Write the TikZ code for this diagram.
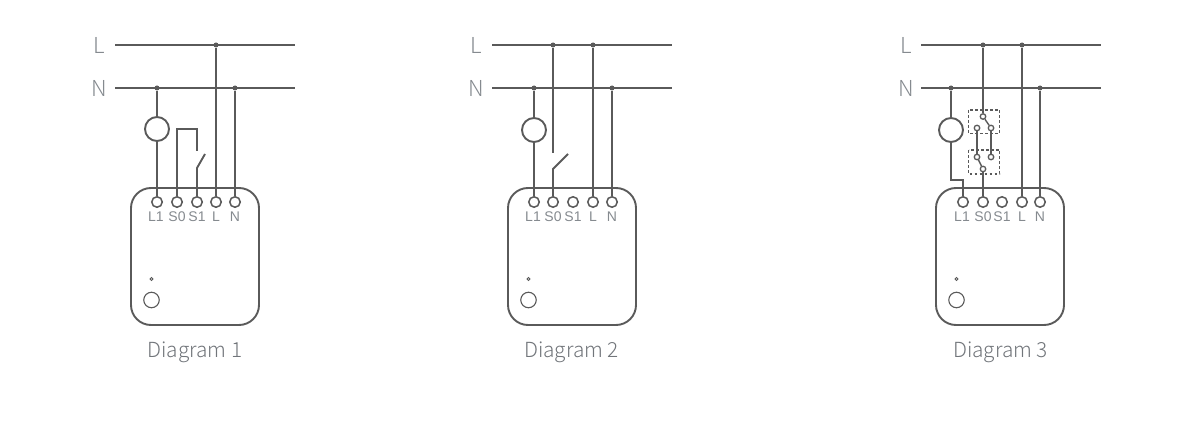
\documentclass[tikz,border=0pt]{standalone}
\usepackage{fontspec}
\setmainfont{Liberation Sans}
\newfontfamily\capfont[UprightFont=* Light]{Noto Sans CJK SC}
\definecolor{wire}{HTML}{5A5A5A}
\definecolor{txt}{HTML}{858A8F}
\tikzset{
  wirel/.style={draw=wire,line width=1.9pt},
  term/.style={circle,draw=wire,line width=1.5pt,fill=white,minimum size=10.5pt,inner sep=0pt},
  junction/.style={circle,fill=wire,minimum size=5pt,inner sep=0pt},
  contact/.style={circle,draw=wire,line width=1.3pt,fill=white,minimum size=5.5pt,inner sep=0pt},
  lamp/.style={circle,draw=wire,line width=1.9pt,fill=white,minimum size=24pt,inner sep=0pt},
  modbox/.style={draw=wire,line width=1.9pt,rounded corners=20pt},
  termlabel/.style={text=txt,font=\fontsize{14}{16}\selectfont,inner sep=0pt},
  mains/.style={text=txt,font=\capfont\fontsize{22}{24}\selectfont,inner sep=0pt},
  caption/.style={text=txt!85!black,font=\capfont\fontsize{20.8}{24}\selectfont,inner sep=0pt},
  btn/.style={circle,draw=wire,line width=1.1pt,minimum size=15.5pt,inner sep=0pt},
  led/.style={circle,draw=wire,line width=.8pt,minimum size=3pt,inner sep=0pt},
  dashbox/.style={draw=wire,line width=1.5pt,dash pattern=on 2.6pt off 2.4pt}
}
% #1 prefix, #2 box left x, #3 bus left x, #4 mains label x, #5 caption text, #6 caption x
\newcommand{\modulebase}[6]{%
  \coordinate (#1-Ls) at (#3,45); \coordinate (#1-Le) at (#3+180,45);
  \coordinate (#1-Ns) at (#3,88); \coordinate (#1-Ne) at (#3+180,88);
  \draw[wirel] (#1-Ls) -- (#1-Le);
  \draw[wirel] (#1-Ns) -- (#1-Ne);
  \node[mains] (#1-Ltxt) at (#4,45.5) {L};
  \node[mains] (#1-Ntxt) at (#4,88.5) {N};
  \draw[modbox] (#2,188) rectangle (#2+128,325);
  \node[led] (#1-led) at (#2+20.5,279) {};
  \node[btn] (#1-btn) at (#2+20.5,300) {};
  \node[caption] (#1-cap) at (#6,352) {#5};
}
% #1 prefix, then the x of the terminals L1 S0 S1 L N
\newcommand{\terminals}[6]{%
  \node[term] (#1-l1) at (#2,202) {};
  \node[term] (#1-s0) at (#3,202) {};
  \node[term] (#1-s1) at (#4,202) {};
  \node[term] (#1-l) at (#5,202) {};
  \node[term] (#1-n) at (#6,202) {};
  \node[termlabel] (#1-tl1) at (#2-1,216.5) {L1};
  \node[termlabel] (#1-ts0) at (#3,216.5) {S0};
  \node[termlabel] (#1-ts1) at (#4,216.5) {S1};
  \node[termlabel] (#1-tl) at (#5,216.5) {L};
  \node[termlabel] (#1-tn) at (#6,216.5) {N};
}
\begin{document}
\begin{tikzpicture}[x=1pt,y=-1pt]
\useasboundingbox (0,0) rectangle (1191,433);

% ---------- Diagram 1
\modulebase{a}{131}{115}{99}{Diagram 1}{195}
\terminals{a}{157}{177}{197}{216}{235}
\node[junction] (a-j1) at (216,45) {};
\node[junction] (a-j2) at (157,88) {};
\node[junction] (a-j3) at (235,88) {};
\node[lamp] (a-lamp) at (157,129) {};
\draw[wirel] (a-j1) -- (a-l.north);
\draw[wirel] (a-j3) -- (a-n.north);
\draw[wirel] (a-j2) -- (a-lamp.north);
\draw[wirel] (a-lamp.south) -- (a-l1.north);
\coordinate (a-up) at (197,129);
\coordinate (a-sw1) at (197,151);
\coordinate (a-sw2) at (197,168);
\coordinate (a-sw3) at (205,154);
\draw[wirel,line join=miter] (a-s0.north) |- (a-up) -- (a-sw1);
\draw[wirel] (a-s1.north) -- (a-sw2) -- (a-sw3);

% ---------- Diagram 2
\modulebase{b}{508}{492}{476}{Diagram 2}{571.5}
\terminals{b}{534}{553}{573}{593}{612}
\node[junction] (b-j1) at (553,45) {};
\node[junction] (b-j4) at (593,45) {};
\node[junction] (b-j2) at (534,88) {};
\node[junction] (b-j3) at (612,88) {};
\node[lamp] (b-lamp) at (534,130) {};
\draw[wirel] (b-j4) -- (b-l.north);
\draw[wirel] (b-j3) -- (b-n.north);
\draw[wirel] (b-j2) -- (b-lamp.north);
\draw[wirel] (b-lamp.south) -- (b-l1.north);
\coordinate (b-sw1) at (553,153);
\coordinate (b-sw2) at (553,169);
\coordinate (b-sw3) at (568,154);
\draw[wirel] (b-j1) -- (b-sw1);
\draw[wirel] (b-s0.north) -- (b-sw2) -- (b-sw3);

% ---------- Diagram 3
\modulebase{c}{936}{921}{906}{Diagram 3}{1000.5}
\terminals{c}{963}{983}{1002}{1022}{1040}
\node[junction] (c-j1) at (983,45) {};
\node[junction] (c-j4) at (1022,45) {};
\node[junction] (c-j2) at (951,88) {};
\node[junction] (c-j3) at (1040,88) {};
\node[lamp] (c-lamp) at (951,130) {};
\draw[wirel] (c-j4) -- (c-l.north);
\draw[wirel] (c-j3) -- (c-n.north);
\draw[wirel] (c-j2) -- (c-lamp.north);
\coordinate (c-bend) at (951,180);
\draw[wirel,line join=miter] (c-lamp.south) -- (c-bend) -| (c-l1.north);
\draw[dashbox] (968.5,110) rectangle (999.5,133.5);
\draw[dashbox] (968.5,150) rectangle (999.5,174);
\node[contact] (c-t) at (983,116.5) {};
\node[contact] (c-tl) at (977,128) {};
\node[contact] (c-tr) at (991,128) {};
\node[contact] (c-bl) at (977,157) {};
\node[contact] (c-br) at (991,157) {};
\node[contact] (c-b) at (983,169) {};
\draw[wirel] (c-j1) -- (c-t);
\draw[wirel] (c-b) -- (c-s0.north);
\draw[wirel] (c-tl) -- (c-bl);
\draw[wirel] (c-tr) -- (c-br);
\draw[wire,line width=1.4pt] (c-t) -- (c-tr);
\draw[wire,line width=1.4pt] (c-b) -- (c-bl);
\end{tikzpicture}
\end{document}
